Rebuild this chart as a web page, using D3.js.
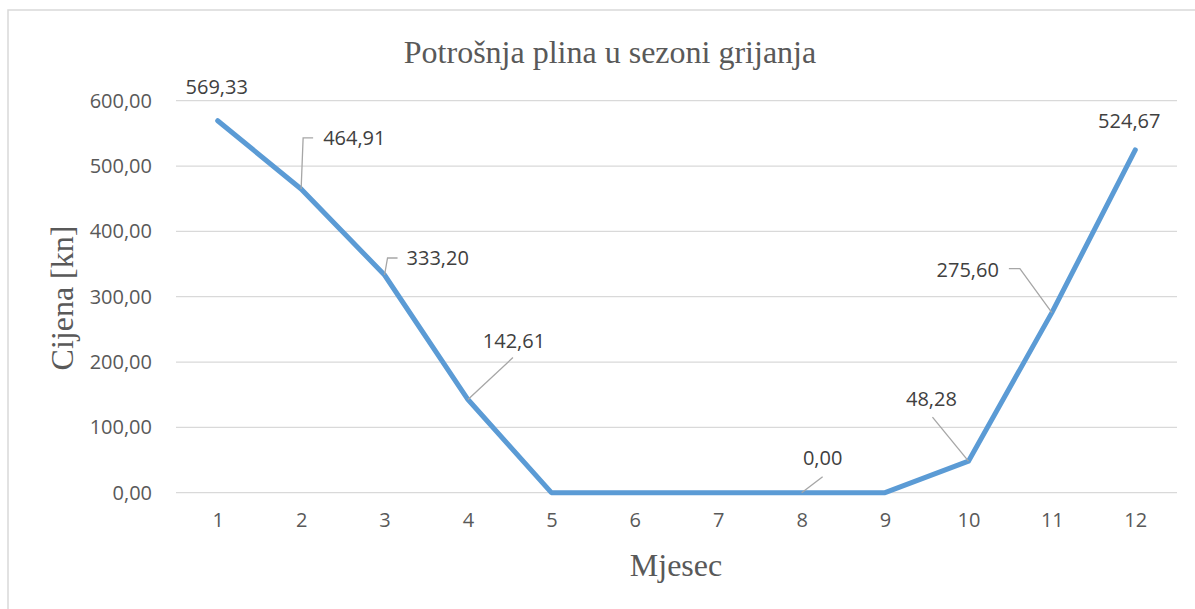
<!DOCTYPE html>
<html>
<head>
<meta charset="utf-8">
<script src="https://cdn.jsdelivr.net/npm/d3@7"></script>
<style>
  html, body { margin: 0; padding: 0; background: #fff; }
  svg { display: block; }
</style>
</head>
<body>
<svg id="chart" width="1195" height="609"></svg>
<script>
// ---- data ----
const months = [1, 2, 3, 4, 5, 6, 7, 8, 9, 10, 11, 12];
const cost = [569.33, 464.91, 333.20, 142.61, 0, 0, 0, 0, 0, 48.28, 275.60, 524.67];
const yTicks = [0, 100, 200, 300, 400, 500, 600];
const labelledMonths = [1, 2, 3, 4, 8, 10, 11, 12];
const titleText = "Potrošnja plina u sezoni grijanja";
const xTitle = "Mjesec";
const yTitle = "Cijena [kn]";

// ---- label layout (offsets from data point, px) ----
// [dx, dy, anchor, leader points relative to data point or null]
const labelLayout = {
  1:  { dx: -1,  dy: -34, anchor: "middle", leader: null },
  2:  { dx: 22,  dy: -51, anchor: "start",  leader: [[0, 0], [2, -51], [12, -51]] },
  3:  { dx: 22,  dy: -17, anchor: "start",  leader: [[0, 0], [3, -17], [13, -17]] },
  4:  { dx: 46,  dy: -59, anchor: "middle", leader: [[0, 0], [45, -42]] },
  8:  { dx: 21,  dy: -35, anchor: "middle", leader: [[0, 0], [21, -16]] },
  10: { dx: -37, dy: -62, anchor: "middle", leader: [[0, 0], [-36, -44]] },
  11: { dx: -53, dy: -43, anchor: "end",    leader: [[0, 0], [-32, -44], [-43, -44]] },
  12: { dx: -6,  dy: -29, anchor: "middle", leader: null }
};

const svg = d3.select("#chart");
const fmt = v => d3.format(".2f")(v).replace(".", ",");

const x = d3.scalePoint().domain(months).range([176, 1177]).padding(0.5);
const y = d3.scaleLinear().domain([0, 600]).range([492.7, 100.7]);

// chart border
svg.append("rect")
  .attr("x", 8).attr("y", 10)
  .attr("width", 1300).attr("height", 700)
  .attr("fill", "#fff")
  .attr("stroke", "#d9d9d9").attr("stroke-width", 1.5);

// gridlines
svg.append("g").selectAll("line").data(yTicks).join("line")
  .attr("x1", 176).attr("x2", 1177)
  .attr("y1", d => y(d)).attr("y2", d => y(d))
  .attr("stroke", "#d9d9d9").attr("stroke-width", 1.3);

// y axis labels
const yAxis = d3.axisLeft(y).tickValues(yTicks).tickFormat(fmt).tickSize(0).tickPadding(24);
const gy = svg.append("g").attr("transform", "translate(176,0)").call(yAxis);
gy.select(".domain").remove();
gy.selectAll("text")
  .attr("fill", "#595959")
  .style("font-family", "'Open Sans', sans-serif")
  .style("font-size", "20px");

// x axis labels
const xAxis = d3.axisBottom(x).tickSize(0).tickPadding(20);
const gx = svg.append("g").attr("transform", "translate(0,492.7)").call(xAxis);
gx.select(".domain").remove();
gx.selectAll("text")
  .attr("fill", "#595959")
  .style("font-family", "'Open Sans', sans-serif")
  .style("font-size", "20px");

// line
const line = d3.line().x((d, i) => x(months[i])).y(d => y(d));
svg.append("path")
  .datum(cost)
  .attr("d", line)
  .attr("fill", "none")
  .attr("stroke", "#5b9bd5")
  .attr("stroke-width", 5)
  .attr("stroke-linejoin", "round")
  .attr("stroke-linecap", "round");

// data labels
const lab = svg.append("g");
labelledMonths.forEach(m => {
  const i = months.indexOf(m);
  const px = x(m), py = y(cost[i]);
  const L = labelLayout[m];
  if (L.leader) {
    lab.append("polyline")
      .attr("points", L.leader.map(p => [px + p[0], py + p[1]].join(",")).join(" "))
      .attr("fill", "none")
      .attr("stroke", "#a6a6a6")
      .attr("stroke-width", 1.3);
  }
  lab.append("text")
    .attr("x", px + L.dx)
    .attr("y", py + L.dy)
    .attr("dy", "0.35em")
    .attr("text-anchor", L.anchor)
    .attr("fill", "#404040")
    .style("font-family", "'Open Sans', sans-serif")
    .style("font-size", "20px")
    .text(fmt(cost[i]));
});

// title
svg.append("text")
  .attr("x", 610).attr("y", 63)
  .attr("text-anchor", "middle")
  .attr("fill", "#595959")
  .style("font-family", "'Liberation Serif', 'Times New Roman', serif")
  .style("font-size", "32px")
  .text(titleText);

// x title
svg.append("text")
  .attr("x", 676).attr("y", 576)
  .attr("text-anchor", "middle")
  .attr("fill", "#595959")
  .style("font-family", "'Liberation Serif', 'Times New Roman', serif")
  .style("font-size", "32px")
  .text(xTitle);

// y title
svg.append("text")
  .attr("transform", "translate(73,298) rotate(-90)")
  .attr("text-anchor", "middle")
  .attr("fill", "#595959")
  .style("font-family", "'Liberation Serif', 'Times New Roman', serif")
  .style("font-size", "32px")
  .text(yTitle);
</script>
</body>
</html>
